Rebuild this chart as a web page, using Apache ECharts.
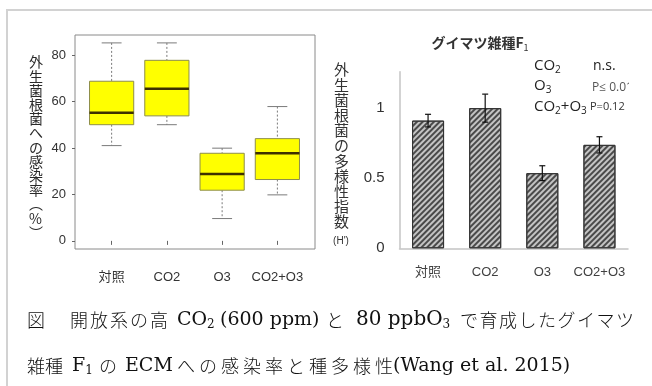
<!DOCTYPE html>
<html><head><meta charset="utf-8">
<script src="https://cdn.jsdelivr.net/npm/echarts@6/dist/echarts.min.js"></script>
<style>html,body{margin:0;padding:0;background:#fff}#c{width:652px;height:386px}</style>
</head><body><div id="c"></div>
<script>
// ---- Left panel: boxplot of ECM infection rate (%) ----
const categoriesLeft = ['対照', 'CO2', 'O3', 'CO2+O3'];
const boxMin    = [41.0, 50.0, 9.6, 19.8];
const boxQ1     = [50.0, 53.8, 21.8, 26.4];
const boxMedian = [55.1, 65.5, 28.8, 37.7];
const boxQ3     = [68.7, 77.7, 37.7, 44.0];
const boxMax    = [85.2, 85.2, 39.9, 57.8];
const leftTicks = [0, 20, 40, 60, 80];
const leftAxisTitle = ['外','生','菌','根','菌','へ','の','感','染','率','︵','%','︶'];

// ---- Right panel: diversity index (H') ----
const categoriesRight = ['対照', 'CO2', 'O3', 'CO2+O3'];
const diversity    = [0.911, 1.0, 0.536, 0.738];
const diversityErr = [0.045, 0.10, 0.053, 0.058];
const rightTicks = [0, 0.5, 1];
const rightAxisTitle = ['外','生','菌','根','菌','の','多','様','性','指','数'];

const boxData = categoriesLeft.map((c, i) => [i, boxMin[i], boxQ1[i], boxMedian[i], boxQ3[i], boxMax[i]]);
const errData = categoriesRight.map((c, i) => [i, diversity[i] - diversityErr[i], diversity[i] + diversityErr[i]]);

const chart = echarts.init(document.getElementById('c'), null, {renderer: 'canvas'});

function renderBox(params, api) {
  const x = api.value(0);
  const pMin = api.coord([x, api.value(1)]);
  const pQ1 = api.coord([x, api.value(2)]);
  const pMed = api.coord([x, api.value(3)]);
  const pQ3 = api.coord([x, api.value(4)]);
  const pMax = api.coord([x, api.value(5)]);
  const band = api.size([1, 0])[0];
  const bw = band * 0.8, cw = band * 0.36;
  const cx = pMed[0];
  const wStyle = {stroke: '#7a7a7a', lineWidth: 1, lineDash: [2, 2]};
  const cStyle = {stroke: '#7a7a7a', lineWidth: 1};
  return {type: 'group', children: [
    {type: 'line', shape: {x1: cx, y1: pMax[1], x2: cx, y2: pQ3[1]}, style: wStyle},
    {type: 'line', shape: {x1: cx, y1: pQ1[1], x2: cx, y2: pMin[1]}, style: wStyle},
    {type: 'line', shape: {x1: cx - cw/2, y1: pMax[1], x2: cx + cw/2, y2: pMax[1]}, style: cStyle},
    {type: 'line', shape: {x1: cx - cw/2, y1: pMin[1], x2: cx + cw/2, y2: pMin[1]}, style: cStyle},
    {type: 'rect', shape: {x: cx - bw/2, y: pQ3[1], width: bw, height: pQ1[1] - pQ3[1]},
      style: {fill: '#ffff00', stroke: '#8e8e4a', lineWidth: 1}},
    {type: 'line', shape: {x1: cx - bw/2, y1: pMed[1], x2: cx + bw/2, y2: pMed[1]},
      style: {stroke: '#3d3000', lineWidth: 2.5}}
  ]};
}

function renderErr(params, api) {
  const x = api.value(0);
  const lo = api.coord([x, api.value(1)]);
  const hi = api.coord([x, api.value(2)]);
  const cx = lo[0], cw = 6;
  const st = {stroke: '#111', lineWidth: 1.2};
  return {type: 'group', children: [
    {type: 'line', shape: {x1: cx, y1: hi[1], x2: cx, y2: lo[1]}, style: st},
    {type: 'line', shape: {x1: cx - cw/2, y1: hi[1], x2: cx + cw/2, y2: hi[1]}, style: st},
    {type: 'line', shape: {x1: cx - cw/2, y1: lo[1], x2: cx + cw/2, y2: lo[1]}, style: st}
  ]};
}

const sansR = "'Liberation Sans', 'Noto Sans CJK JP', sans-serif";
const sansJ = "'Noto Sans CJK JP', 'Open Sans', sans-serif";
const legendFont = "'Open Sans', 'Noto Sans CJK JP', sans-serif";
const serif = "'DejaVu Serif', 'Liberation Serif', serif";

// caption layout helpers (layout only, no data)
const capCJK = {fontSize: 18, fill: '#111', fontFamily: sansJ, fontWeight: 300, verticalAlign: 'middle'};
function spacedCJK(text, x0, x1, y) {
  const chars = Array.from(text);
  const n = chars.length;
  const pitch = n > 1 ? (x1 - x0 - capCJK.fontSize) / (n - 1) : 0;
  return chars.map((ch, i) => ({type: 'text', x: x0 + i * pitch, y: y, style: Object.assign({text: ch}, capCJK)}));
}
function latin(x, y, main, sub, size) {
  const fs = size || 19;
  let t = '{l|' + main + '}';
  if (sub) t += '{s|' + sub + '}';
  return {type: 'text', x: x, y: y, style: {text: t, verticalAlign: 'middle',
    rich: {l: {fontSize: fs, lineHeight: 22, fill: '#111', fontFamily: serif},
           s: {fontSize: 12, lineHeight: 12, verticalAlign: 'bottom', fill: '#111', fontFamily: serif}}}};
}
const y1 = 320, y2 = 366;
const caption = [].concat(
  spacedCJK('図', 27, 45, y1),
  spacedCJK('開放系の高', 70, 168, y1),
  [latin(177, y1, 'CO', '2'), latin(220, y1, '(600 ppm)')],
  spacedCJK('と', 326, 344, y1),
  [latin(356, y1, '80 ppbO', '3', 20)],
  spacedCJK('で育成したグイマツ', 460, 634, y1),
  spacedCJK('雑種', 27, 63, y2),
  [latin(72, y2, 'F', '1')],
  spacedCJK('の', 99, 117, y2),
  [latin(125, y2, 'ECM')],
  spacedCJK('への感染率と種多様性', 177, 393, y2),
  [latin(393, y2, '(Wang et al. 2015)')]
);

const legendRich = {a: {fontSize: 15, lineHeight: 18, fill: '#222', fontFamily: legendFont},
                    s: {fontSize: 10, lineHeight: 8, verticalAlign: 'bottom', fill: '#222', fontFamily: legendFont}};

const option = {
  backgroundColor: '#ffffff',
  animation: false,
  grid: [
    {left: 84, top: 35, width: 221, height: 214},
    {left: 75, top: 35, width: 240, height: 214, show: true, borderColor: '#8a8a8a', borderWidth: 1, backgroundColor: 'transparent'},
    {left: 399.5, top: 71.7, width: 228.5, height: 176.6}
  ],
  xAxis: [
    {type: 'category', gridIndex: 0, data: categoriesLeft, boundaryGap: true,
      axisLine: {show: false},
      axisTick: {show: true, alignWithLabel: true, length: 4, lineStyle: {color: '#666'}},
      axisLabel: {interval: 0, hideOverlap: false, margin: 22, fontSize: 13, color: '#333', fontFamily: sansR}},
    {type: 'value', gridIndex: 1, show: false, min: 0, max: 1},
    {type: 'category', gridIndex: 2, data: categoriesRight, boundaryGap: true,
      axisLine: {show: true, lineStyle: {color: '#c4c4c4', width: 1.5}},
      axisTick: {show: false},
      axisLabel: {interval: 0, hideOverlap: false, margin: 18, fontSize: 13, color: '#404040', fontFamily: sansR}}
  ],
  yAxis: [
    {type: 'value', gridIndex: 0, min: -3.5, max: 88.6, offset: 9,
      axisLine: {show: false},
      axisTick: {show: true, length: 3, customValues: leftTicks, lineStyle: {color: '#666'}},
      axisLabel: {customValues: leftTicks, margin: 9, fontSize: 13, color: '#333', fontFamily: sansR},
      splitLine: {show: false}},
    {type: 'value', gridIndex: 1, show: false, min: 0, max: 1},
    {type: 'value', gridIndex: 2, min: 0, max: 1.26,
      axisLine: {show: true, lineStyle: {color: '#c4c4c4', width: 1.5}},
      axisTick: {show: false},
      axisLabel: {customValues: rightTicks, margin: 15, fontSize: 15, color: '#333', fontFamily: sansR},
      splitLine: {show: false}}
  ],
  series: [
    {type: 'custom', xAxisIndex: 0, yAxisIndex: 0, data: boxData, renderItem: renderBox,
      encode: {x: 0, y: [1, 2, 3, 4, 5]}},
    {type: 'bar', xAxisIndex: 2, yAxisIndex: 2, data: diversity, barWidth: 32,
      itemStyle: {color: '#c4c4c4', borderColor: '#333', borderWidth: 1,
        decal: {symbol: 'rect', symbolSize: 1, dashArrayX: [[1, 0]], dashArrayY: [1.1, 1.4], rotation: -Math.PI / 4, color: '#4a4a4a'}}},
    {type: 'custom', xAxisIndex: 2, yAxisIndex: 2, data: errData, renderItem: renderErr,
      encode: {x: 0, y: [1, 2]}, z: 5}
  ],
  graphic: [
    {type: 'polyline', z: 1, shape: {points: [[7, 386], [7, 10], [652, 10]]}, style: {stroke: '#d2d2d2', lineWidth: 2, fill: null}},
    {type: 'text', left: 29, top: 55, style: {text: leftAxisTitle.join('\n'), fontSize: 14, lineHeight: 14.2, fill: '#2a2a2a', fontFamily: sansJ, align: 'center', fontWeight: 'normal'}},
    {type: 'text', x: 480, y: 43, style: {text: '{t|グイマツ雑種F}{s|1}', align: 'center', verticalAlign: 'middle',
      rich: {t: {fontSize: 14, lineHeight: 18, fill: '#333', fontFamily: sansJ, fontWeight: 'bold'},
             s: {fontSize: 9, lineHeight: 9, verticalAlign: 'bottom', fill: '#333', fontFamily: sansJ}}}},
    {type: 'text', left: 334, top: 62, style: {text: rightAxisTitle.join('\n'), fontSize: 15, lineHeight: 15.2, fill: '#333', fontFamily: sansJ, align: 'center'}},
    {type: 'text', x: 341, y: 241, style: {text: "(H')", fontSize: 10, fill: '#333', fontFamily: sansR, align: 'center', verticalAlign: 'middle'}},
    {type: 'text', x: 534, y: 66, style: {text: '{a|CO}{s|2}', verticalAlign: 'middle', rich: legendRich}},
    {type: 'text', x: 593, y: 66, style: {text: 'n.s.', fontSize: 14, fill: '#222', fontFamily: legendFont, verticalAlign: 'middle'}},
    {type: 'text', x: 534, y: 86, style: {text: '{a|O}{s|3}', verticalAlign: 'middle', rich: legendRich}},
    {type: 'text', x: 592, y: 88, style: {text: 'P≤ 0.01', fontSize: 12, fill: '#555', fontFamily: legendFont, verticalAlign: 'middle'}},
    {type: 'text', x: 534, y: 107, style: {text: '{a|CO}{s|2}{a|+O}{s|3}', verticalAlign: 'middle', rich: legendRich}},
    {type: 'text', x: 590, y: 107, z: 10, style: {text: 'P=0.12', fontSize: 11, fill: '#333', fontFamily: legendFont, verticalAlign: 'middle', backgroundColor: '#fff'}},
    {type: 'rect', z: 20, shape: {x: 629, y: 40, width: 23, height: 250}, style: {fill: '#ffffff'}}
  ].concat(caption)
};
chart.setOption(option);
</script>
</body></html>
